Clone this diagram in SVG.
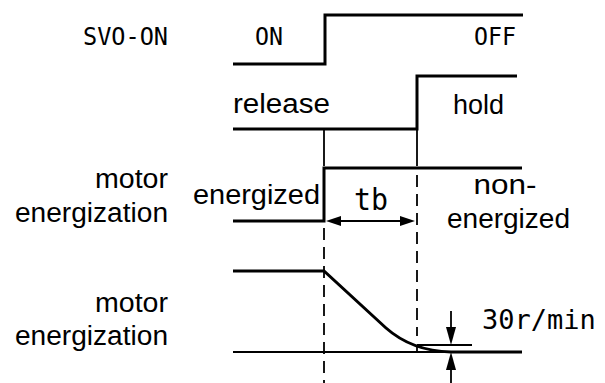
<svg xmlns="http://www.w3.org/2000/svg" width="605" height="383" viewBox="0 0 605 383">
<style>
.sans{font-family:"Liberation Sans",Arial,sans-serif;font-size:27px;fill:#000}
.mono{font-family:"DejaVu Sans Mono","Liberation Mono",monospace;fill:#000}
.thick{fill:none;stroke:#000;stroke-width:3;stroke-linejoin:miter}
.thin{fill:none;stroke:#000;stroke-width:1.8}
.dash{fill:none;stroke:#000;stroke-width:1.8;stroke-dasharray:12 7}
.head{fill:#000;stroke:none}
</style>
<rect width="605" height="383" fill="#fff"/>
<g id="labels">
<text class="mono" x="83" y="45" font-size="25" textLength="85" lengthAdjust="spacingAndGlyphs">SVO-ON</text>
<text class="sans" x="168" y="188" text-anchor="end" textLength="73" lengthAdjust="spacingAndGlyphs">motor</text>
<text class="sans" x="168" y="222" text-anchor="end" textLength="153" lengthAdjust="spacingAndGlyphs">energization</text>
<text class="sans" x="168" y="312" text-anchor="end" textLength="73" lengthAdjust="spacingAndGlyphs">motor</text>
<text class="sans" x="168" y="345" text-anchor="end" textLength="153" lengthAdjust="spacingAndGlyphs">energization</text>
</g>
<g id="svo-signal">
<polyline class="thick" points="233,64 325,64 325,15 523,15"/>
<text class="mono" x="255" y="45" font-size="25" textLength="28" lengthAdjust="spacingAndGlyphs">ON</text>
<text class="mono" x="474" y="45" font-size="25" textLength="42" lengthAdjust="spacingAndGlyphs">OFF</text>
</g>
<g id="brake-signal">
<polyline class="thick" points="233,129 417,129 417,76 517,76"/>
<text class="sans" x="233" y="113" textLength="97" lengthAdjust="spacingAndGlyphs">release</text>
<text class="sans" x="453" y="114" textLength="51" lengthAdjust="spacingAndGlyphs">hold</text>
</g>
<g id="energization-signal">
<polyline class="thick" points="233,221 324,221 324,168 522,168"/>
<text class="sans" x="193" y="204" textLength="127" lengthAdjust="spacingAndGlyphs">energized</text>
<text class="sans" x="505" y="194" text-anchor="middle" textLength="63" lengthAdjust="spacingAndGlyphs">non-</text>
<text class="sans" x="447" y="228" textLength="123" lengthAdjust="spacingAndGlyphs">energized</text>
</g>
<g id="speed-signal">
<line class="thin" x1="233" y1="352" x2="451" y2="352"/>
<path class="thick" d="M233,271 L324,271 L386,328 Q412,351 451,352 L522,352"/>
</g>
<g id="connectors">
<line class="thin" x1="324" y1="129" x2="324" y2="166"/>
<line class="thin" x1="417" y1="129" x2="417" y2="166"/>
<line class="dash" x1="324" y1="228" x2="324" y2="383"/>
<line class="dash" x1="417" y1="175" x2="417" y2="336"/>
<line class="thin" x1="417" y1="345" x2="417" y2="352"/>
<line class="thin" x1="340" y1="221" x2="401" y2="221"/>
<polygon class="head" points="326,221 341,216 341,226"/>
<polygon class="head" points="415,221 400,216 400,226"/>
<line class="thin" x1="417" y1="345" x2="472" y2="345"/>
<line class="thin" x1="451" y1="311" x2="451" y2="330"/>
<polygon class="head" points="451,345 446,327 456,327"/>
<line class="thin" x1="451" y1="368" x2="451" y2="383"/>
<polygon class="head" points="451,352 446,370 456,370"/>
<text class="mono" x="354" y="210" font-size="30" textLength="34" lengthAdjust="spacingAndGlyphs">tb</text>
<text class="mono" x="482" y="329" font-size="27">30r/min</text>
</g>
</svg>
